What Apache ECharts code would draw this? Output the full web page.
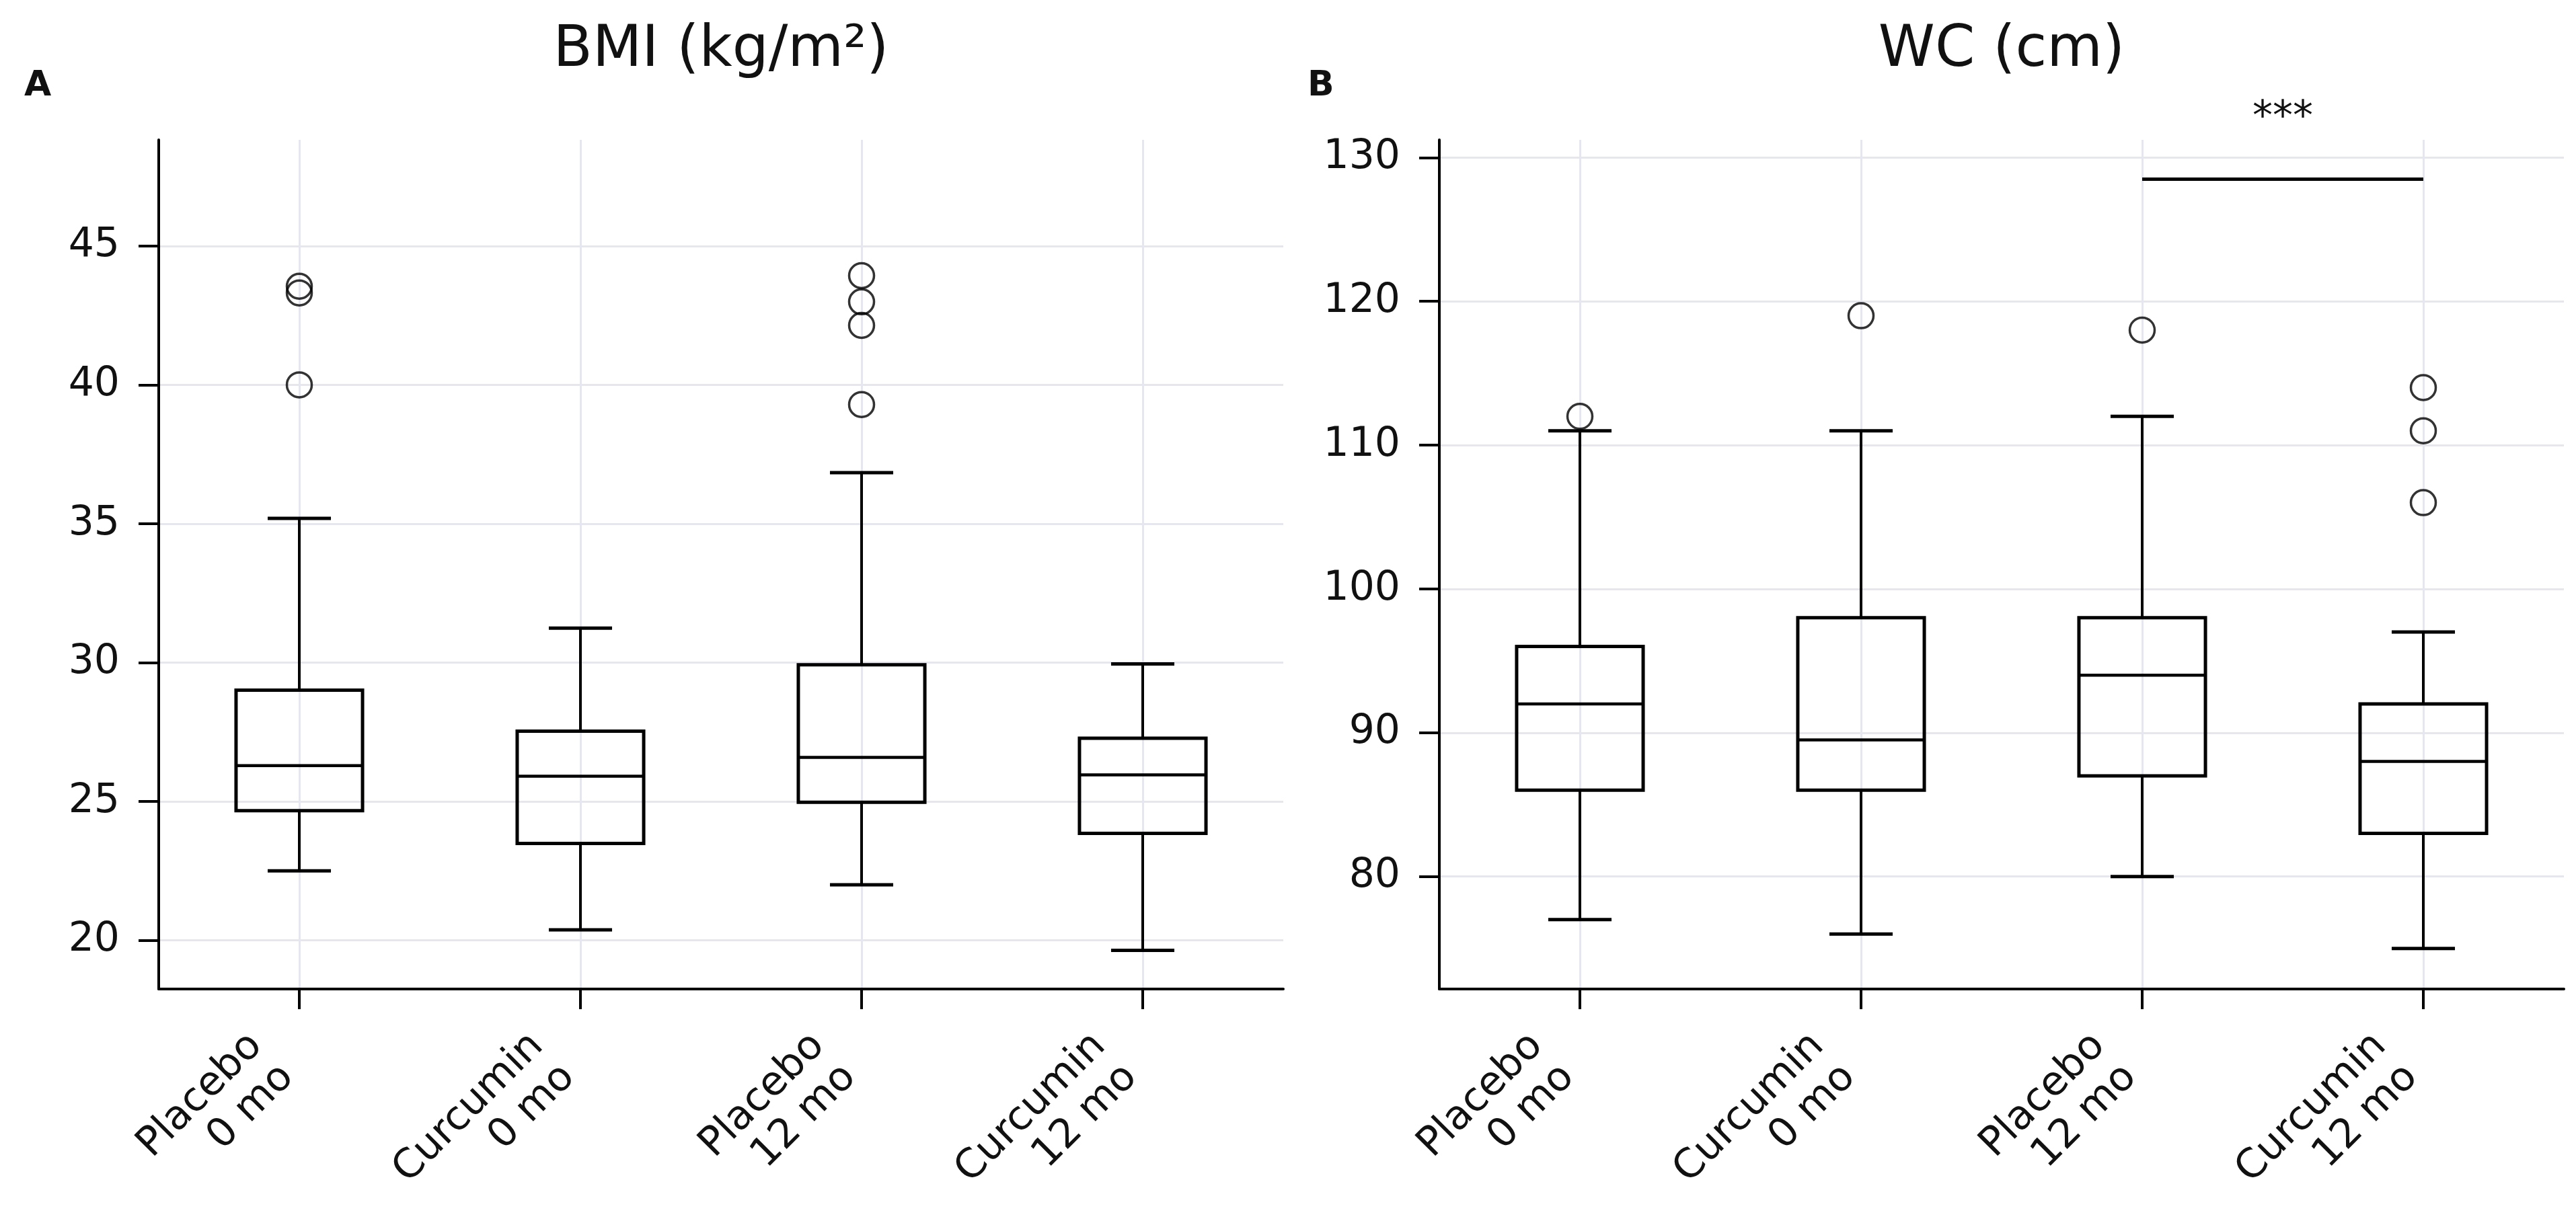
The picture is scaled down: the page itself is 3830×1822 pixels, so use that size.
<!DOCTYPE html>
<html>
<head>
<meta charset="utf-8">
<script src="https://cdn.jsdelivr.net/npm/echarts@6/dist/echarts.min.js"></script>
<style>
  html, body { margin: 0; padding: 0; background: #fff; }
  #chart { width: 3830px; height: 1822px; }
</style>
</head>
<body>
<div id="chart"></div>
<script>
// groups on the x axis
var categories = ['Placebo\n0 mo', 'Curcumin\n0 mo', 'Placebo\n12 mo', 'Curcumin\n12 mo']
var groupIndex = [0, 1, 2, 3]

// BMI boxes: [lower whisker, Q1, median, Q3, upper whisker]
var bmiBoxes = [
    [22.5, 24.67, 26.29, 29.01, 35.19],
    [20.38, 23.49, 25.91, 27.53, 31.24],
    [22.0, 24.97, 26.59, 29.92, 36.84],
    [19.64, 23.85, 25.96, 27.28, 29.95]
]
// BMI outliers: [group, value]
var bmiOutliers = [[0, 43.55], [0, 43.31], [0, 40.0], [2, 43.93], [2, 42.99], [2, 42.14], [2, 39.29]]
var bmiTicks = [20, 25, 30, 35, 40, 45]

// WC boxes
var wcBoxes = [
    [77, 86, 92, 96, 111],
    [76, 86, 89.5, 98, 111],
    [80, 87, 94, 98, 112],
    [75, 83, 88, 92, 97]
]
var wcOutliers = [[0, 112], [1, 119], [2, 118], [3, 114], [3, 111], [3, 106]]
var wcTicks = [80, 90, 100, 110, 120, 130]

// significance bar on WC
var sigPair = [2, 3]
var sigY = 128.5
var sigText = '***'

var FONT = 'DejaVu Sans'
var INK = '#111'
var GRIDCOL = '#e6e6ee'

function renderBox(params, api) {
    var i = api.value(0)
    var lo = api.coord([i, api.value(1)])
    var q1 = api.coord([i, api.value(2)])
    var med = api.coord([i, api.value(3)])
    var q3 = api.coord([i, api.value(4)])
    var hi = api.coord([i, api.value(5)])
    var band = api.size([1, 0])[0]
    var half = band * 0.225
    var cap = half / 2
    var x = lo[0]
    var line = function (x1, y1, x2, y2, w) {
        return {
            type: 'line',
            shape: { x1: x1, y1: y1, x2: x2, y2: y2 },
            style: { stroke: '#000', lineWidth: w, fill: null }
        }
    }
    return {
        type: 'group',
        children: [
            line(x, q3[1], x, hi[1], 4),
            line(x, q1[1], x, lo[1], 4),
            line(x - cap, hi[1], x + cap, hi[1], 5),
            line(x - cap, lo[1], x + cap, lo[1], 5),
            {
                type: 'rect',
                shape: { x: x - half, y: q3[1], width: half * 2, height: q1[1] - q3[1] },
                style: { fill: 'none', stroke: '#000', lineWidth: 5 }
            },
            line(x - half, med[1], x + half, med[1], 4.5)
        ]
    }
}

function xAxisFor(gridIndex) {
    return {
        type: 'value', gridIndex: gridIndex, min: -0.5, max: 3.5,
        axisLine: { show: true, onZero: false, lineStyle: { color: '#000', width: 4 } },
        axisTick: { show: true, inside: false, length: 30, customValues: groupIndex, lineStyle: { color: '#000', width: 4 } },
        axisLabel: {
            customValues: groupIndex, rotate: 45, margin: 58, padding: [0, 58, 0, 0],
            fontSize: 60, lineHeight: 66, fontFamily: FONT, color: INK,
            formatter: function (v) { return categories[Math.round(v)] }
        },
        splitLine: { show: true, lineStyle: { color: GRIDCOL, width: 3 } }
    }
}

function yAxisFor(gridIndex, min, max, ticks) {
    return {
        type: 'value', gridIndex: gridIndex, min: min, max: max,
        axisLine: { show: true, onZero: false, lineStyle: { color: '#000', width: 4 } },
        axisTick: { show: true, inside: false, length: 30, customValues: ticks, lineStyle: { color: '#000', width: 4 } },
        axisLabel: { customValues: ticks, margin: 58, fontSize: 60, fontFamily: FONT, color: INK },
        splitLine: { show: true, lineStyle: { color: GRIDCOL, width: 3 } }
    }
}

function outlierSeries(idx, data, extra) {
    var s = {
        type: 'scatter', xAxisIndex: idx, yAxisIndex: idx,
        data: data, symbol: 'circle', symbolSize: 37,
        itemStyle: { color: 'rgba(0,0,0,0)', borderColor: '#000', borderWidth: 3.5 },
        z: 5, silent: true
    }
    return Object.assign(s, extra || {})
}

var chart = echarts.init(document.getElementById('chart'))

var option = {
    backgroundColor: '#fff',
    animation: false,
    grid: [
        { left: 236, top: 208, width: 1672, height: 1295 },
        { left: 2140, top: 208, width: 1672, height: 1295 }
    ],
    xAxis: [xAxisFor(0), xAxisFor(1)],
    yAxis: [
        yAxisFor(0, 18.25, 48.82, bmiTicks),
        yAxisFor(1, 72.18, 131.23, wcTicks)
    ],
    graphic: [
        { type: 'text', x: 1072, y: 76, style: { text: 'BMI (kg/m²)', font: '85px "DejaVu Sans"', fill: INK, align: 'center', verticalAlign: 'middle' } },
        { type: 'text', x: 2976, y: 76, style: { text: 'WC (cm)', font: '85px "DejaVu Sans"', fill: INK, align: 'center', verticalAlign: 'middle' } },
        { type: 'text', x: 36, y: 128, style: { text: 'A', font: 'bold 52px "DejaVu Sans"', fill: INK, align: 'left', verticalAlign: 'middle' } },
        { type: 'text', x: 1944, y: 128, style: { text: 'B', font: 'bold 52px "DejaVu Sans"', fill: INK, align: 'left', verticalAlign: 'middle' } }
    ],
    series: [
        {
            type: 'custom', xAxisIndex: 0, yAxisIndex: 0,
            data: bmiBoxes.map(function (b, i) { return [i].concat(b) }),
            encode: { x: 0, y: [1, 2, 3, 4, 5] },
            renderItem: renderBox, silent: true, z: 3
        },
        {
            type: 'custom', xAxisIndex: 1, yAxisIndex: 1,
            data: wcBoxes.map(function (b, i) { return [i].concat(b) }),
            encode: { x: 0, y: [1, 2, 3, 4, 5] },
            renderItem: renderBox, silent: true, z: 3
        },
        outlierSeries(0, bmiOutliers),
        outlierSeries(1, wcOutliers, {
            markLine: {
                silent: true,
                symbol: ['none', 'none'],
                lineStyle: { color: '#000', width: 5, type: 'solid' },
                label: { show: true, position: 'middle', formatter: sigText, fontSize: 60, fontFamily: FONT, color: INK, distance: 60 },
                data: [[{ coord: [sigPair[0], sigY] }, { coord: [sigPair[1], sigY] }]]
            }
        })
    ]
}

chart.setOption(option)
</script>
</body>
</html>
